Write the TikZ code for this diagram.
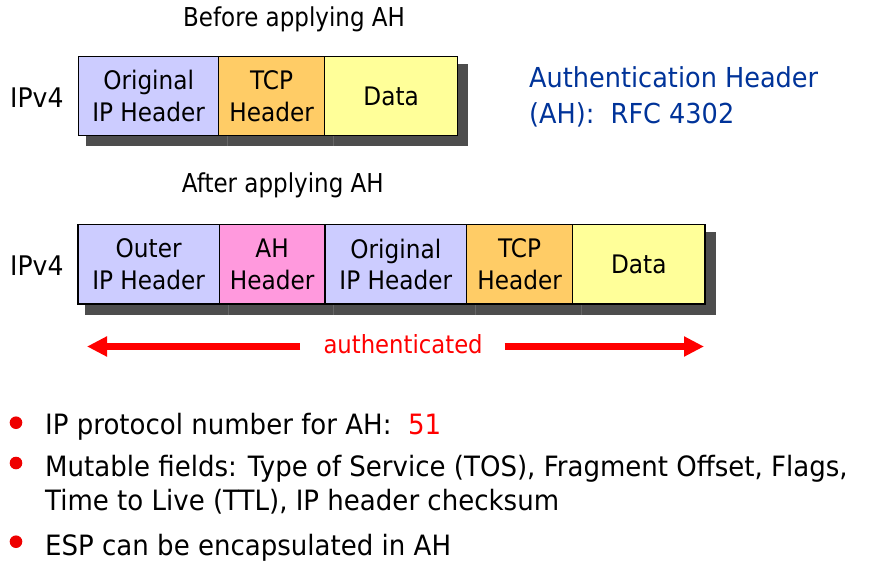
\documentclass[tikz,border=0pt]{standalone}
\usepackage{fontspec}
\setmainfont{DejaVu Sans}[FakeStretch=0.91]
\newfontfamily\bulfam{DejaVu Sans}[FakeStretch=0.93]
\newfontfamily\headfam{DejaVu Sans}[FakeStretch=0.885]
\usetikzlibrary{arrows.meta,backgrounds}
\definecolor{lav}{HTML}{CCCCFF}
\definecolor{tcpc}{HTML}{FFCC66}
\definecolor{datc}{HTML}{FFFF99}
\definecolor{ahc}{HTML}{FF99DD}
\definecolor{shadowc}{HTML}{4D4D4D}
\definecolor{shadowl}{HTML}{666666}
\definecolor{titleblue}{HTML}{003399}
\definecolor{bulletred}{HTML}{EE0000}
\newcommand\boxfont{\fontsize{25.5}{31.5}\selectfont}
\newcommand\authfont{\fontsize{25}{30}\selectfont}
\newcommand\ipfont{\bulfam\fontsize{27}{30}\selectfont}
\newcommand\bigfont{\bulfam\fontsize{28}{33}\selectfont}
\newcommand\bluefont{\bulfam\fontsize{27.5}{33}\selectfont}
\newcommand\headfont{\headfam\fontsize{26}{30}\selectfont}
\tikzset{
  cell/.style={draw=black, line width=1.3pt, minimum height=79.3pt, inner sep=0pt,
    align=center, font=\boxfont, anchor=north west},
  shadowbox/.style={fill=shadowc},
  shadowdiv/.style={draw=shadowl, line width=0.8pt},
  lbl/.style={anchor=base west, inner sep=0pt},
  arr/.style={draw=red, line width=6.5pt, -{Triangle[length=20pt,width=19pt]}},
  bullet/.style={circle, fill=bulletred, minimum size=12.6pt, inner sep=0pt}
}
\begin{document}
\begin{tikzpicture}[x=1pt,y=-1pt]
\useasboundingbox (0,0) rectangle (872,569);
% headings
\node[lbl, font=\headfont] (before) at (183,26.7) {Before applying AH};
\node[lbl, font=\headfont] (after) at (181.7,192.3) {After applying AH};
% top row
\node[lbl, font=\ipfont] (ipa) at (10,107.7) {IPv4};
\node[cell, fill=lav, minimum width=140pt] (t1) at (78,55.7) {Original\\IP Header};
\node[cell, fill=tcpc, minimum width=106pt] (t2) at (218,55.7) {TCP\\Header};
\node[cell, fill=datc, minimum width=133pt] (t3) at (324,55.7) {Data};
% bottom row
\node[lbl, font=\ipfont] (ipb) at (10,276) {IPv4};
\node[cell, fill=lav, minimum width=141.4pt] (b1) at (77.3,224) {Outer\\IP Header};
\node[cell, fill=ahc, minimum width=105.6pt] (b2) at (218.7,224) {AH\\Header};
\node[cell, fill=lav, minimum width=141.7pt] (b3) at (324.3,224) {Original\\IP Header};
\node[cell, fill=tcpc, minimum width=106pt] (b4) at (466,224) {TCP\\Header};
\node[cell, fill=datc, minimum width=132.3pt] (b5) at (572,224) {Data};
% shadows
\begin{scope}[on background layer]
\fill[shadowbox] ([shift={(8,8)}]t1.north west) rectangle ([shift={(10,10)}]t3.south east);
\fill[shadowbox] ([shift={(8,8)}]b1.north west) rectangle ([shift={(10,10)}]b5.south east);
\foreach \n in {t1,t2,b1,b2,b3,b4}{
  \draw[shadowdiv] ([shift={(8,0)}]\n.south east) -- ++(0,10);
}
\end{scope}
% authenticated arrow
\node[lbl, font=\authfont, text=red] (auth) at (323.3,353.3) {authenticated};
\coordinate (la) at (87,346.5);
\coordinate (lb) at (300,346.5);
\coordinate (ra) at (704,346.5);
\coordinate (rb) at (504.5,346.5);
\draw[arr] (lb) -- (la);
\draw[arr] (rb) -- (ra);
% blue title
\node[lbl, font=\bluefont, text=titleblue] (ah1) at (529,87.7) {Authentication Header};
\node[lbl, font=\bluefont, text=titleblue] (ah2) at (529,124) {(AH):\ \ RFC 4302};
% bullets
\node[bullet] (d1) at (16,422.7) {};
\node[bullet] (d2) at (16,463) {};
\node[bullet] (d3) at (16,541.7) {};
\node[lbl, font=\bigfont] (l1) at (45,434.3) {IP protocol number for AH:\ \ \textcolor{red}{51}};
\node[lbl, font=\bigfont] (l2) at (45,476.7) {Mutable fields: Type of Service (TOS), Fragment Offset, Flags,};
\node[lbl, font=\bigfont] (l3) at (45,510) {Time to Live (TTL), IP header checksum};
\node[lbl, font=\bigfont] (l4) at (45,555) {ESP can be encapsulated in AH};
\end{tikzpicture}
\end{document}
